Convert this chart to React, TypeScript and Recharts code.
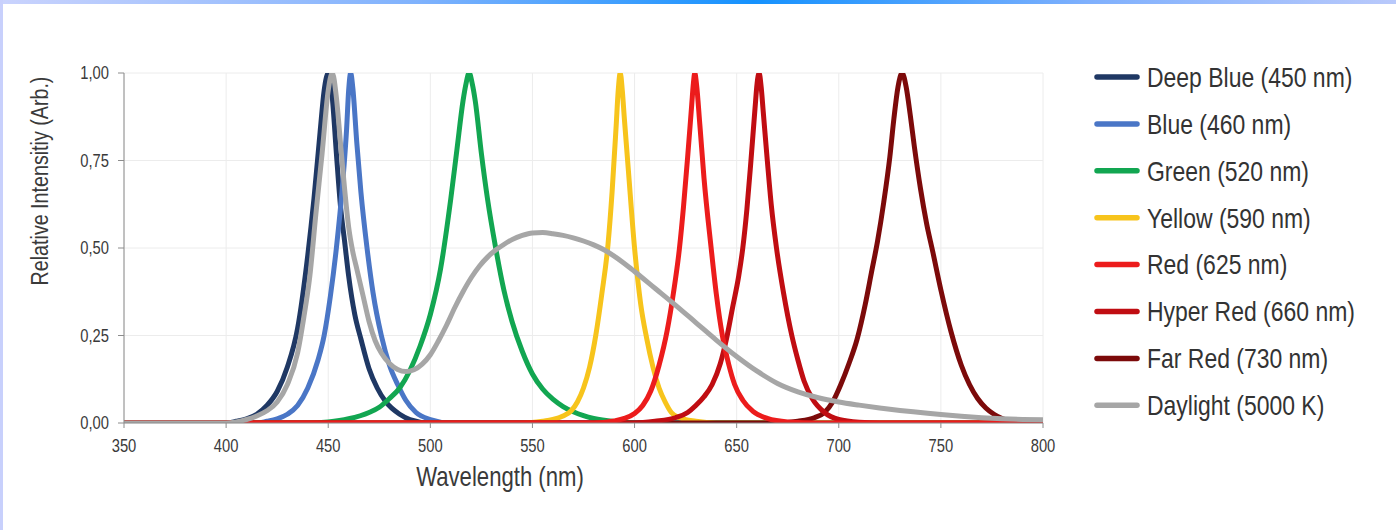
import React from 'react';
import { LineChart, Line, XAxis, YAxis, CartesianGrid } from 'recharts';

const FONT = '"Liberation Sans", Arial, sans-serif';
const SX = 0.82;

const xTicks = [350, 400, 450, 500, 550, 600, 650, 700, 750, 800];
const yTicks = [0, 0.25, 0.5, 0.75, 1];

const deepBlueNm = [350, 400, 405, 410, 415, 420, 425, 430, 435, 440, 443, 446, 448, 449, 450, 451, 452, 454, 456, 458, 460, 463, 466, 470, 474, 478, 485, 490, 500, 800];
const deepBlueVal = [0, 0, 0.005, 0.012, 0.025, 0.05, 0.09, 0.16, 0.27, 0.48, 0.64, 0.83, 0.95, 0.985, 1.0, 0.98, 0.93, 0.77, 0.62, 0.52, 0.42, 0.31, 0.24, 0.155, 0.1, 0.062, 0.025, 0.01, 0, 0];

const blueNm = [350, 415, 420, 425, 430, 435, 440, 445, 448, 451, 454, 457, 459, 460, 461, 462, 464, 466, 469, 472, 476, 480, 484, 488, 493, 500, 510, 800];
const blueVal = [0, 0, 0.005, 0.012, 0.025, 0.05, 0.1, 0.18, 0.25, 0.36, 0.5, 0.68, 0.84, 0.95, 1.0, 0.96, 0.8, 0.66, 0.5, 0.37, 0.25, 0.165, 0.11, 0.065, 0.03, 0.01, 0, 0];

const greenNm = [350, 440, 450, 460, 470, 475, 480, 485, 490, 495, 500, 505, 510, 513, 516, 517.5, 519, 520.5, 522, 525, 528, 532, 536, 540, 545, 550, 555, 560, 565, 570, 575, 580, 590, 600, 800];
const greenVal = [0, 0, 0.003, 0.012, 0.03, 0.045, 0.07, 0.1, 0.15, 0.22, 0.31, 0.44, 0.64, 0.78, 0.92, 0.97, 1.0, 0.97, 0.92, 0.77, 0.64, 0.5, 0.38, 0.29, 0.205, 0.14, 0.097, 0.068, 0.047, 0.032, 0.021, 0.013, 0.004, 0, 0];

const yellowNm = [350, 545, 555, 560, 565, 569, 572, 575, 578, 581, 584, 587, 589, 591, 592, 593, 594, 595, 597, 600, 603, 606, 609, 612, 615, 618, 622, 630, 640, 800];
const yellowVal = [0, 0, 0.005, 0.01, 0.02, 0.035, 0.06, 0.1, 0.16, 0.25, 0.37, 0.51, 0.66, 0.85, 0.95, 1.0, 0.95, 0.87, 0.72, 0.5, 0.34, 0.24, 0.16, 0.1, 0.06, 0.03, 0.015, 0.005, 0, 0];

const redNm = [350, 580, 590, 595, 600, 604, 608, 612, 616, 619, 622, 624, 626, 628, 628.8, 629.5, 630.3, 632, 634, 637.5, 640, 643, 646, 649, 653, 658, 665, 675, 690, 800];
const redVal = [0, 0, 0.006, 0.013, 0.027, 0.05, 0.092, 0.165, 0.265, 0.37, 0.5, 0.62, 0.76, 0.91, 0.97, 1.0, 0.97, 0.85, 0.7, 0.5, 0.37, 0.25, 0.17, 0.11, 0.065, 0.033, 0.013, 0.003, 0, 0];

const hyperRedNm = [350, 600, 610, 620, 626, 630, 634, 638, 642, 645, 648, 651, 653, 655, 657, 659, 660, 661, 662, 663, 665, 667, 669.5, 673, 677, 680, 683, 687, 693, 700, 710, 720, 800];
const hyperRedVal = [0, 0, 0.005, 0.015, 0.03, 0.05, 0.075, 0.11, 0.17, 0.24, 0.33, 0.42, 0.5, 0.61, 0.75, 0.9, 0.97, 1.0, 0.96, 0.89, 0.75, 0.62, 0.5, 0.37, 0.25, 0.18, 0.12, 0.07, 0.03, 0.01, 0.002, 0, 0];

const farRedNm = [350, 670, 680, 688, 693, 697, 701, 705, 709, 713, 716, 719, 722, 725, 727, 729, 731, 733, 735, 737, 740, 743, 746, 750, 755, 760, 764, 768, 772, 776, 780, 785, 790, 800];
const farRedVal = [0, 0, 0.005, 0.015, 0.03, 0.06, 0.11, 0.17, 0.24, 0.34, 0.43, 0.52, 0.63, 0.76, 0.87, 0.96, 1.0, 0.96, 0.88, 0.79, 0.67, 0.57, 0.49, 0.38, 0.26, 0.165, 0.11, 0.07, 0.043, 0.025, 0.013, 0.005, 0, 0];

const daylightNm = [350, 400, 405, 410, 415, 420, 425, 430, 435, 438, 441, 444, 447, 450, 452, 454, 456, 458, 460, 462, 464, 467, 470, 473, 476, 480, 484, 488, 492, 496, 500, 504, 508, 512, 516, 520, 524, 528, 532, 536, 540, 545, 550, 555, 560, 565, 570, 575, 580, 585, 590, 595, 600, 610, 620, 630, 640, 650, 660, 670, 680, 690, 700, 710, 720, 730, 740, 750, 760, 770, 780, 790, 800];
const daylightVal = [0, 0, 0.003, 0.01, 0.02, 0.035, 0.06, 0.11, 0.2, 0.3, 0.42, 0.6, 0.77, 0.95, 1.0, 0.93, 0.8, 0.67, 0.56, 0.49, 0.44, 0.365, 0.29, 0.235, 0.2, 0.17, 0.153, 0.147, 0.152, 0.168, 0.195, 0.235, 0.28, 0.33, 0.375, 0.415, 0.448, 0.474, 0.494, 0.51, 0.524, 0.536, 0.543, 0.544, 0.541, 0.536, 0.529, 0.52, 0.509, 0.495, 0.477, 0.456, 0.433, 0.385, 0.337, 0.287, 0.237, 0.19, 0.148, 0.113, 0.089, 0.072, 0.06, 0.051, 0.043, 0.036, 0.03, 0.024, 0.019, 0.015, 0.012, 0.01, 0.009];

const seriesNames = ['Deep Blue (450 nm)', 'Blue (460 nm)', 'Green (520 nm)', 'Yellow (590 nm)', 'Red (625 nm)', 'Hyper Red (660 nm)', 'Far Red (730 nm)', 'Daylight (5000 K)'];
const seriesColors = ['#1f3864', '#4a76c6', '#12a651', '#f7c41c', '#ec1c1c', '#c00d12', '#7c0a0a', '#a6a6a6'];
const seriesNm = [deepBlueNm, blueNm, greenNm, yellowNm, redNm, hyperRedNm, farRedNm, daylightNm];
const seriesVal = [deepBlueVal, blueVal, greenVal, yellowVal, redVal, hyperRedVal, farRedVal, daylightVal];
const drawOrder = [0, 1, 2, 3, 6, 5, 4, 7];

const toData = (nm: number[], v: number[]) => nm.map((x, i) => ({ nm: x, v: v[i] }));
const fmtY = (v: number) => v.toFixed(2).replace('.', ',');

const XTick = (props: any) => {
  const { x, y, payload } = props;
  return (
    <g transform={`translate(${x},${y})`}>
      <text transform={`scale(${SX},1)`} textAnchor="middle" dy="0.71em" fontSize={18} fill="#3a3a3a" fontFamily={FONT}>
        {payload.value}
      </text>
    </g>
  );
};

const YTick = (props: any) => {
  const { x, y, payload } = props;
  return (
    <g transform={`translate(${x},${y})`}>
      <text transform={`scale(${SX},1)`} textAnchor="end" dy="0.355em" fontSize={18} fill="#3a3a3a" fontFamily={FONT}>
        {fmtY(payload.value)}
      </text>
    </g>
  );
};

export default function App() {
  return (
    <div style={{ position: 'absolute', left: 0, top: 0, width: 1396, height: 530, background: '#fff', overflow: 'hidden', fontFamily: FONT }}>
      <div style={{ position: 'absolute', left: 0, top: 0, width: 1396, height: 4, background: 'linear-gradient(to right, #cad3fd 0%, #7fb2fd 30%, #1592fe 54%, #7fb0fd 78%, #b9c9fb 100%)' }} />
      <div style={{ position: 'absolute', left: 0, top: 0, width: 3, height: 530, background: '#c8d0fc' }} />
      <div style={{ position: 'absolute', left: 0, top: 0 }}>
        <LineChart width={1396} height={530} margin={{ top: 73, right: 353, bottom: 77, left: 64 }}>
          <CartesianGrid stroke="#ececec" strokeWidth={1} />
          <XAxis
            dataKey="nm"
            type="number"
            domain={[350, 800]}
            ticks={xTicks}
            height={30}
            allowDuplicatedCategory={false}
            allowDataOverflow
            stroke="#8c8c8c"
            tickSize={5}
            tickMargin={11}
            tick={<XTick />}
          />
          <YAxis
            type="number"
            domain={[0, 1]}
            ticks={yTicks}
            width={60}
            allowDataOverflow
            stroke="#8c8c8c"
            tickSize={6}
            tickMargin={9}
            tick={<YTick />}
          />
          {drawOrder.map((i) => (
            <Line
              key={seriesNames[i]}
              data={toData(seriesNm[i], seriesVal[i])}
              dataKey="v"
              name={seriesNames[i]}
              type="monotone"
              stroke={seriesColors[i]}
              strokeWidth={5}
              dot={false}
              activeDot={false}
              isAnimationActive={false}
            />
          ))}
        </LineChart>
      </div>
      <svg width={1396} height={530} style={{ position: 'absolute', left: 0, top: 0, pointerEvents: 'none' }}>
        <text transform={`translate(40,181) rotate(-90) scale(${SX},1)`} textAnchor="middle" dy="0.35em" fontSize={24} fill="#3a3a3a" fontFamily={FONT}>
          Relative Intensitiy (Arb.)
        </text>
        <text transform={`translate(500,477) scale(${SX},1)`} textAnchor="middle" dy="0.35em" fontSize={27} fill="#3a3a3a" fontFamily={FONT}>
          Wavelength (nm)
        </text>
        {seriesNames.map((name, i) => (
          <g key={name}>
            <line x1={1097} x2={1137} y1={77 + i * 46.9} y2={77 + i * 46.9} stroke={seriesColors[i]} strokeWidth={5.5} strokeLinecap="round" />
            <text transform={`translate(1147,${77 + i * 46.9}) scale(${SX},1)`} dy="0.35em" fontSize={28} fill="#333" fontFamily={FONT}>
              {name}
            </text>
          </g>
        ))}
      </svg>
    </div>
  );
}
